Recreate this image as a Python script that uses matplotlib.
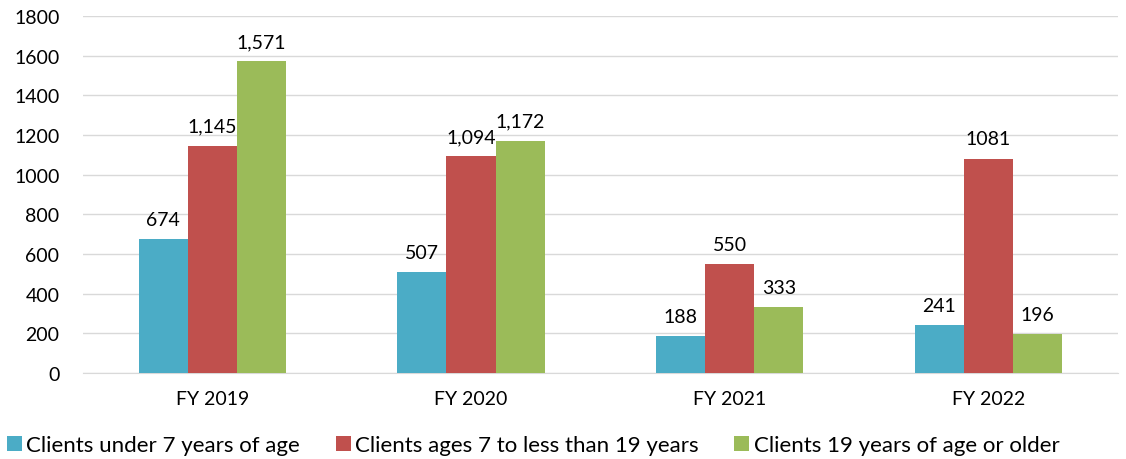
import numpy as np
from matplotlib import pyplot as plt

# data
years = ["FY 2019", "FY 2020", "FY 2021", "FY 2022"]
seriesNames = ["Clients under 7 years of age",
               "Clients ages 7 to less than 19 years",
               "Clients 19 years of age or older"]
under7 = [674, 507, 188, 241]
ages7to19 = [1145, 1094, 550, 1081]
over19 = [1571, 1172, 333, 196]
under7Labels = ["674", "507", "188", "241"]
ages7to19Labels = ["1,145", "1,094", "550", "1081"]
over19Labels = ["1,571", "1,172", "333", "196"]

colors = ["#4BACC6", "#C0504D", "#9BBB59"]

plt.rcParams['font.family'] = ['Lato', 'DejaVu Sans']

fig = plt.figure(figsize=(11.26, 4.6), dpi=100)
ax = fig.add_axes([0.0737, 0.187, 0.919, 0.776])

x = np.arange(len(years))
barWidth = 0.19
allValues = [under7, ages7to19, over19]
allLabels = [under7Labels, ages7to19Labels, over19Labels]

for i in range(3):
    pos = x + (i - 1) * barWidth
    bars = ax.bar(pos, allValues[i], width=barWidth, color=colors[i],
                  label=seriesNames[i], zorder=3)
    for b, txt in zip(bars, allLabels[i]):
        ax.annotate(txt, (b.get_x() + b.get_width() / 2, b.get_height()),
                    xytext=(0, 8), textcoords="offset points",
                    ha="center", va="bottom", fontsize=14, color="#000000")

ax.set_xlim(-0.5, len(years) - 0.5)
ax.set_ylim(0, 1800)
ax.set_yticks(range(0, 1801, 200))
ax.set_xticks(x)
ax.set_xticklabels(years, fontsize=14)
ax.tick_params(axis="y", labelsize=14, length=0, pad=17)
ax.tick_params(axis="x", length=0, pad=12)
ax.grid(axis="y", color="#D9D9D9", linewidth=1, zorder=0)

for side in ["top", "right", "left"]:
    ax.spines[side].set_visible(False)
ax.spines["bottom"].set_color("#D9D9D9")

leg = fig.legend(loc="center left", bbox_to_anchor=(0.006, 0.03), ncol=3,
                 frameon=False, fontsize=16, handlelength=0.68,
                 handleheight=0.68, handletextpad=0.2, columnspacing=1.6,
                 borderaxespad=0, borderpad=0)

plt.savefig("out.png", dpi=100)
